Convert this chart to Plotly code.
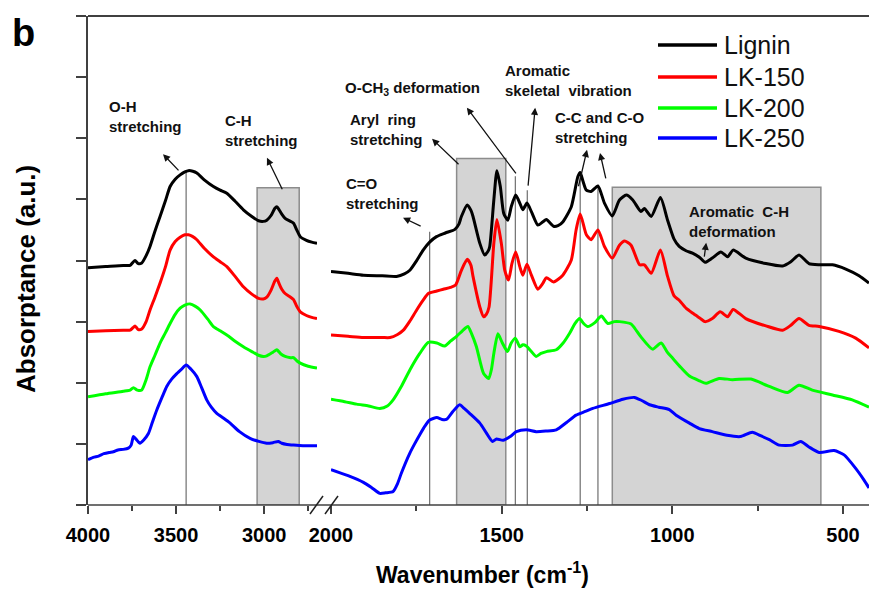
import plotly.graph_objects as go

# ---------------- data (wavenumber cm-1, absorptance a.u.) ----------------
# high-wavenumber panel (4000-2700)
lignin_wn_hi = [4000, 3900, 3800, 3761, 3745, 3733, 3715, 3695, 3670, 3648, 3620, 3591, 3560, 3534, 3505, 3477,
                3450, 3430, 3405, 3382, 3340, 3288, 3250, 3212, 3165, 3118, 3070, 3032, 3005, 2985, 2960, 2940,
                2928, 2915, 2900, 2881, 2850, 2833, 2815, 2795, 2760, 2730, 2700]
lignin_abs_hi = [3.88, 3.90, 3.92, 3.92, 3.97, 4.00, 3.95, 3.96, 4.08, 4.23, 4.48, 4.72, 4.98, 5.21, 5.33, 5.40,
                 5.45, 5.47, 5.46, 5.43, 5.32, 5.21, 5.15, 5.10, 4.97, 4.83, 4.72, 4.65, 4.64, 4.66, 4.74, 4.85,
                 4.88, 4.83, 4.76, 4.69, 4.64, 4.61, 4.50, 4.39, 4.33, 4.30, 4.28]

lk150_wn_hi = lignin_wn_hi
lk150_abs_hi = [2.84, 2.85, 2.86, 2.86, 2.90, 2.93, 2.87, 2.88, 3.00, 3.19, 3.40, 3.63, 3.90, 4.17, 4.31, 4.38,
                4.42, 4.42, 4.39, 4.34, 4.20, 4.06, 3.98, 3.90, 3.74, 3.57, 3.45, 3.38, 3.37, 3.40, 3.52, 3.66,
                3.71, 3.62, 3.53, 3.46, 3.40, 3.36, 3.25, 3.16, 3.10, 3.07, 3.05]

lk200_wn_hi = [4000, 3900, 3800, 3761, 3742, 3720, 3695, 3670, 3648, 3620, 3591, 3560, 3534, 3505, 3477, 3450,
               3420, 3390, 3363, 3320, 3288, 3250, 3212, 3165, 3118, 3070, 3032, 3005, 2985, 2950, 2928, 2905,
               2881, 2850, 2833, 2815, 2795, 2750, 2700]
lk200_abs_hi = [1.77, 1.82, 1.86, 1.88, 1.92, 1.88, 1.88, 2.05, 2.26, 2.45, 2.65, 2.82, 2.97, 3.12, 3.22, 3.27,
                3.29, 3.25, 3.19, 3.04, 2.92, 2.85, 2.78, 2.68, 2.59, 2.51, 2.45, 2.43, 2.44, 2.50, 2.54, 2.47,
                2.43, 2.41, 2.41, 2.36, 2.32, 2.27, 2.24]

lk250_wn_hi = [4000, 3970, 3940, 3910, 3880, 3856, 3830, 3800, 3771, 3755, 3742, 3725, 3705, 3685, 3657, 3635,
               3610, 3580, 3553, 3525, 3496, 3470, 3443, 3415, 3382, 3355, 3326, 3300, 3269, 3230, 3193, 3140,
               3080, 3030, 2985, 2950, 2920, 2900, 2870, 2833, 2780, 2700]
lk250_abs_hi = [0.74, 0.78, 0.80, 0.84, 0.86, 0.87, 0.90, 0.91, 0.93, 0.98, 1.12, 1.07, 1.01, 1.06, 1.17, 1.35,
                1.55, 1.76, 1.94, 2.06, 2.15, 2.22, 2.29, 2.22, 2.10, 1.92, 1.72, 1.60, 1.50, 1.42, 1.34, 1.20,
                1.09, 1.04, 1.01, 1.02, 1.04, 1.01, 0.99, 0.98, 0.97, 0.97]

# low-wavenumber panel (2000-424)
lignin_wn_lo = [2000, 1950, 1905, 1850, 1808, 1785, 1769, 1750, 1730, 1711, 1691, 1665, 1637, 1625, 1618, 1601,
                1590, 1584, 1564, 1550, 1540, 1535, 1523, 1514, 1504, 1494, 1482, 1472, 1459, 1447, 1438, 1426,
                1413, 1394, 1380, 1369, 1348, 1335, 1321, 1296, 1277, 1270, 1262, 1252, 1238, 1218, 1199, 1176,
                1155, 1135, 1116, 1092, 1082, 1062, 1035, 1014, 995, 980, 960, 941, 920, 904, 883, 858, 838, 822,
                785, 726, 677, 653, 629, 600, 570, 531, 492, 453, 424]
lignin_abs_lo = [3.82, 3.79, 3.76, 3.75, 3.74, 3.78, 3.84, 3.99, 4.17, 4.30, 4.39, 4.45, 4.51, 4.60, 4.72, 4.91,
                 4.82, 4.72, 4.28, 4.09, 4.15, 4.23, 4.99, 5.47, 5.21, 4.77, 4.66, 4.88, 5.07, 4.94, 4.83, 4.94,
                 4.80, 4.58, 4.63, 4.67, 4.56, 4.57, 4.63, 4.88, 5.37, 5.44, 5.30, 5.15, 5.13, 5.22, 4.94, 4.73,
                 4.99, 5.07, 4.99, 4.80, 4.85, 4.72, 5.03, 4.66, 4.35, 4.23, 4.16, 4.12, 4.05, 3.97, 4.04, 4.14,
                 4.06, 4.17, 4.04, 3.95, 3.91, 3.98, 4.09, 3.95, 3.93, 3.93, 3.86, 3.75, 3.63]

lk150_wn_lo = [2000, 1950, 1905, 1850, 1827, 1805, 1788, 1770, 1749, 1730, 1715, 1690, 1671, 1650, 1635, 1618,
               1601, 1590, 1584, 1564, 1553, 1545, 1537, 1523, 1514, 1501, 1491, 1480, 1470, 1459, 1447, 1438,
               1426, 1413, 1394, 1380, 1369, 1348, 1321, 1296, 1282, 1270, 1252, 1238, 1218, 1199, 1176, 1155,
               1140, 1121, 1096, 1082, 1062, 1035, 1014, 995, 980, 960, 941, 920, 904, 883, 860, 838, 822, 785,
               726, 677, 653, 629, 600, 570, 512, 463, 424]
lk150_abs_lo = [2.78, 2.76, 2.74, 2.74, 2.74, 2.79, 2.86, 3.00, 3.19, 3.35, 3.46, 3.50, 3.53, 3.56, 3.60, 3.84,
                4.02, 3.92, 3.74, 3.24, 3.08, 3.12, 3.24, 4.28, 4.67, 4.28, 3.84, 3.68, 3.95, 4.14, 3.90, 3.76,
                3.94, 3.76, 3.53, 3.62, 3.72, 3.65, 3.76, 4.01, 4.50, 4.76, 4.42, 4.34, 4.50, 4.23, 4.04, 4.25,
                4.32, 4.25, 3.93, 3.93, 3.79, 4.17, 3.74, 3.42, 3.35, 3.22, 3.14, 3.06, 3.00, 3.05, 3.16, 3.08,
                3.20, 3.05, 2.93, 2.86, 2.94, 3.05, 2.94, 2.92, 2.84, 2.73, 2.57]

lk200_wn_lo = [2000, 1960, 1925, 1890, 1857, 1835, 1818, 1795, 1769, 1740, 1715, 1690, 1667, 1650, 1632, 1615,
               1599, 1588, 1574, 1553, 1538, 1530, 1523, 1511, 1498, 1483, 1472, 1460, 1447, 1438, 1428, 1413,
               1399, 1385, 1369, 1340, 1320, 1301, 1285, 1272, 1260, 1248, 1228, 1208, 1189, 1170, 1155, 1121,
               1105, 1092, 1058, 1033, 1015, 999, 975, 950, 920, 902, 863, 824, 770, 716, 663, 629, 590, 531,
               473, 424]
lk200_abs_lo = [1.73, 1.69, 1.65, 1.62, 1.58, 1.62, 1.72, 1.93, 2.21, 2.48, 2.66, 2.65, 2.60, 2.68, 2.76, 2.85,
                2.92, 2.80, 2.59, 2.15, 2.07, 2.22, 2.48, 2.80, 2.65, 2.51, 2.65, 2.73, 2.59, 2.62, 2.60, 2.51,
                2.43, 2.48, 2.51, 2.54, 2.65, 2.81, 2.97, 3.05, 2.97, 2.92, 2.98, 3.09, 2.97, 3.00, 3.00, 2.96,
                2.85, 2.75, 2.55, 2.65, 2.50, 2.40, 2.25, 2.11, 2.03, 1.99, 2.07, 2.05, 2.06, 1.94, 1.84, 1.96,
                1.88, 1.80, 1.72, 1.60]

lk250_wn_lo = [2000, 1950, 1905, 1880, 1857, 1840, 1818, 1805, 1794, 1769, 1755, 1740, 1725, 1711, 1690, 1675,
               1662, 1643, 1623, 1610, 1594, 1564, 1545, 1527, 1515, 1496, 1475, 1457, 1428, 1399, 1370, 1340,
               1310, 1282, 1255, 1233, 1184, 1145, 1111, 1090, 1067, 1040, 1009, 989, 950, 921, 883, 840, 800,
               766, 740, 716, 687, 648, 624, 600, 570, 526, 497, 463, 440, 424]
lk250_abs_lo = [0.58, 0.48, 0.37, 0.28, 0.19, 0.20, 0.22, 0.35, 0.52, 0.85, 1.00, 1.15, 1.29, 1.39, 1.43, 1.40,
                1.40, 1.53, 1.64, 1.58, 1.50, 1.34, 1.18, 1.04, 1.08, 1.06, 1.12, 1.20, 1.23, 1.20, 1.21, 1.23,
                1.35, 1.47, 1.53, 1.58, 1.66, 1.73, 1.76, 1.71, 1.64, 1.60, 1.56, 1.47, 1.34, 1.25, 1.20, 1.14,
                1.12, 1.19, 1.13, 1.07, 0.98, 0.98, 1.04, 0.95, 0.86, 0.89, 0.82, 0.60, 0.42, 0.28]

series_names = ["Lignin", "LK-150", "LK-200", "LK-250"]
series_colors = ["#000000", "#ff0000", "#00ff00", "#0000ff"]

# axis ticks
hi_ticks = [4000, 3500, 3000]
lo_ticks = [2000, 1500, 1000, 500]

# band markers: (axis, wavenumber, top)
band_lines = [("x", 3443, 5.45), ("x2", 1711, 4.47), ("x2", 1460, 5.38), ("x2", 1425, 5.15),
              ("x2", 1270, 5.45), ("x2", 1218, 5.24)]
# shaded regions: (axis, wn_start, wn_end, top)
band_boxes = [("x", 3040, 2801, 5.19), ("x2", 1632, 1488, 5.67), ("x2", 1176, 565, 5.20)]

# labels: (axis, wn, y, text)
band_labels = [
    ("x", 3892, 6.36, "O-H<br>stretching"),
    ("x", 3234, 6.13, "C-H<br>stretching"),
    ("x2", 1965, 6.82, "O-CH<sub>3</sub> deformation"),
    ("x2", 1496, 6.95, "Aromatic<br>skeletal&nbsp; vibration"),
    ("x2", 1950, 6.14, "Aryl&nbsp; ring<br>stretching"),
    ("x2", 1962, 5.10, "C=O<br>stretching"),
    ("x2", 1350, 6.18, "C-C and C-O<br>stretching"),
    ("x2", 957, 4.63, "Aromatic&nbsp; C-H<br>deformation"),
]
# arrows: (axis, tail_wn, tail_y, head_wn, head_y)
band_arrows = [
    ("x", 3478, 5.45, 3574, 5.74),
    ("x", 2893, 5.14, 2984, 5.68),
    ("x2", 1455, 5.40, 1602, 6.50),
    ("x2", 1423, 5.20, 1402, 6.50),
    ("x2", 1622, 5.55, 1704, 5.99),
    ("x2", 1733, 4.55, 1789, 4.70),
    ("x2", 1276, 5.19, 1250, 5.81),
    ("x2", 1194, 5.32, 1212, 5.76),
    ("x2", 907, 4.04, 901, 4.29),
]

FONT = "Liberation Sans, Arial, sans-serif"
W, H = 869, 589
ML, MR, MT, MB = 88, 0, 16, 84
PW = W - ML - MR
PH = H - MT - MB


def px(xp):
    return (xp - ML) / PW


def py(yp):
    return (H - MB - yp) / PH


fig = go.Figure()
hi = [(lignin_wn_hi, lignin_abs_hi), (lk150_wn_hi, lk150_abs_hi), (lk200_wn_hi, lk200_abs_hi), (lk250_wn_hi, lk250_abs_hi)]
lo = [(lignin_wn_lo, lignin_abs_lo), (lk150_wn_lo, lk150_abs_lo), (lk200_wn_lo, lk200_abs_lo), (lk250_wn_lo, lk250_abs_lo)]
for i in range(4):
    line = dict(color=series_colors[i], width=3, shape="spline", smoothing=0.6)
    fig.add_trace(go.Scatter(x=hi[i][0], y=hi[i][1], xaxis="x", yaxis="y", mode="lines",
                             line=line, name=series_names[i], showlegend=False, hoverinfo="skip"))
    fig.add_trace(go.Scatter(x=lo[i][0], y=lo[i][1], xaxis="x2", yaxis="y", mode="lines",
                             line=line, name=series_names[i], showlegend=False, hoverinfo="skip"))

shapes = []
for ax, a, b, top in band_boxes:
    shapes.append(dict(type="rect", xref=ax, yref="y", x0=a, x1=b, y0=0, y1=top,
                       fillcolor="#d4d4d4", line=dict(color="#8c8c8c", width=1.5), layer="below"))
for ax, wn, top in band_lines:
    shapes.append(dict(type="line", xref=ax, yref="y", x0=wn, x1=wn, y0=0, y1=top,
                       line=dict(color="#6e6e6e", width=1.2), layer="below"))
# frame lines
shapes.append(dict(type="line", xref="paper", yref="paper", x0=0, x1=1, y0=1, y1=1,
                   line=dict(color="#404040", width=1.8)))
shapes.append(dict(type="line", xref="paper", yref="paper", x0=0, x1=1, y0=0, y1=0,
                   line=dict(color="#404040", width=1.5)))
# axis break marks
for x0p in (310, 325):
    shapes.append(dict(type="line", xref="paper", yref="paper", x0=px(x0p), x1=px(x0p + 13),
                       y0=py(514), y1=py(496), line=dict(color="#202020", width=1.5)))
# legend lines
leg_y = [45, 77, 108, 138]
for i in range(4):
    shapes.append(dict(type="line", xref="paper", yref="paper", x0=px(658), x1=px(717),
                       y0=py(leg_y[i]), y1=py(leg_y[i]), line=dict(color=series_colors[i], width=3.5)))

annotations = []
for ax, wn, yv, txt in band_labels:
    annotations.append(dict(xref=ax, yref="y", x=wn, y=yv, text=txt, showarrow=False,
                            xanchor="left", yanchor="middle", align="left",
                            font=dict(family=FONT, size=15, color="#111111", weight="bold")))
for ax, tx, ty, hx, hy in band_arrows:
    annotations.append(dict(xref=ax, yref="y", axref=ax, ayref="y", x=hx, y=hy, ax=tx, ay=ty,
                            text="", showarrow=True, arrowhead=2, arrowsize=1.1, arrowwidth=1.3,
                            arrowcolor="#111111"))
for i in range(4):
    annotations.append(dict(xref="paper", yref="paper", x=px(722), y=py(leg_y[i]), text=series_names[i],
                            showarrow=False, xanchor="left", yanchor="middle",
                            font=dict(family=FONT, size=25, color="#111111")))
annotations.append(dict(xref="paper", yref="paper", x=px(23), y=py(33), text="b", showarrow=False,
                        xanchor="center", yanchor="middle",
                        font=dict(family=FONT, size=38, color="#000000", weight="bold")))
annotations.append(dict(xref="paper", yref="paper", x=px(482), y=py(573), text="Wavenumber (cm<sup>-1</sup>)",
                        showarrow=False, xanchor="center", yanchor="middle",
                        font=dict(family=FONT, size=23, color="#000000", weight="bold")))
annotations.append(dict(xref="paper", yref="paper", x=px(26), y=py(279), text="Absorptance (a.u.)",
                        showarrow=False, xanchor="center", yanchor="middle", textangle=-90,
                        font=dict(family=FONT, size=26, color="#000000", weight="bold")))

tickfont = dict(family=FONT, size=20, color="#000000", weight="bold")
xcommon = dict(ticks="outside", ticklen=8, tickwidth=1.5, tickcolor="#404040", showline=False,
               showgrid=False, zeroline=False, tickfont=tickfont, anchor="y", ticklabelstandoff=4)

fig.update_layout(
    width=W, height=H, margin=dict(l=ML, r=MR, t=MT, b=MB, autoexpand=False),
    plot_bgcolor="white", paper_bgcolor="white", showlegend=False,
    xaxis=dict(domain=[0, px(317)], range=[4000, 2700], tickmode="array", tickvals=hi_ticks,
               minor=dict(tickmode="linear", tick0=0, dtick=250, ticks="outside", ticklen=5,
                          tickwidth=1.5, tickcolor="#404040"), **xcommon),
    xaxis2=dict(domain=[px(331), 1], range=[2000, 424], tickmode="array", tickvals=lo_ticks,
                minor=dict(tickmode="linear", tick0=0, dtick=250, ticks="outside", ticklen=5,
                           tickwidth=1.5, tickcolor="#404040"), **xcommon),
    yaxis=dict(domain=[0, 1], range=[0, 8], tickmode="array", tickvals=list(range(9)), ticks="outside",
               ticklen=10, tickwidth=1.5, tickcolor="#404040", showticklabels=False, showline=True,
               linecolor="#404040", linewidth=1.5, showgrid=False, zeroline=False),
    shapes=shapes, annotations=annotations,
)

fig.write_html("out.html")
